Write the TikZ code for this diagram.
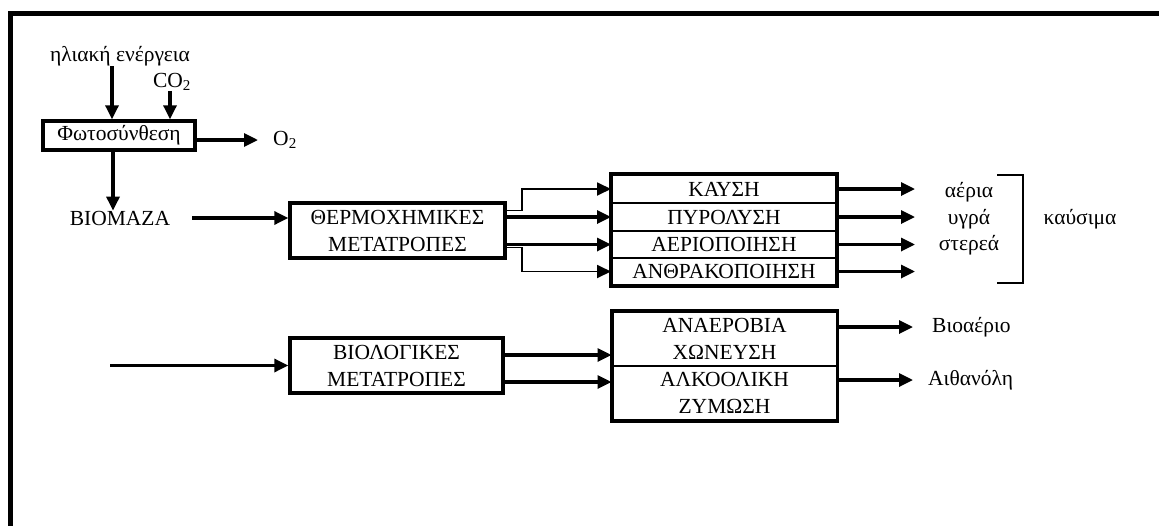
\documentclass[tikz,border=0pt]{standalone}
\usepackage{fontspec}
\setmainfont{Liberation Serif}
\usetikzlibrary{arrows.meta,calc}
\begin{document}
\begin{tikzpicture}[x=1pt,y=-1pt,
  txt/.style={inner sep=0pt, font=\fontsize{21.5}{27}\selectfont},
  box/.style={draw, line width=3.4pt, inner sep=0pt, align=center, font=\fontsize{21.5}{27}\selectfont},
  cell/.style={draw, line width=2pt, inner sep=0pt, align=center, font=\fontsize{21.5}{27}\selectfont, minimum width=224pt},
  arr/.style={line width=3.2pt, -{Triangle[length=14pt,width=13pt]}},
  tarr/.style={line width=1.8pt, -{Triangle[length=14pt,width=13pt]}}
]
\useasboundingbox (0,0) rectangle (1159,525);
% frame
\draw[line width=5pt] (10.5,527) -- (10.5,13) -- (1162,13);

% photosynthesis part
\node[txt] (sun) at (120,56) {ηλιακή ενέργεια};
\node[txt] (co2) at (172,82) {CO\textsubscript{2}};
\node[box, minimum width=152pt, minimum height=29pt] (photo) at (119,135.5) {Φωτοσύνθεση};
\node[txt] (o2) at (285,140) {O\textsubscript{2}};
\node[txt] (bio) at (120,218) {BIOMAZA};

\draw[arr] (sun.south -| 112,0) -- (photo.north -| 112,0);
\draw[arr] (co2.south -| 170,0) -- (photo.north -| 170,0);
\coordinate (o2end) at (258,140);
\draw[arr] (photo.east |- o2end) -- (o2end);
\draw[arr] (photo.south -| 113,0) -- (bio.north -| 113,0);

% thermochemical
\node[box, minimum width=215pt, minimum height=55pt] (thermo) at (397.5,230.5) {ΘΕΡΜΟΧΗΜΙΚΕΣ\\ΜΕΤΑΤΡΟΠΕΣ};
\coordinate (bioout) at (192,218);
\draw[arr] (bioout) -- (bioout -| thermo.west);

\node[cell, minimum height=28pt] (kausi) at (724,189) {ΚΑΥΣΗ};
\node[cell, minimum height=28pt] (pyro) at (724,217) {ΠΥΡΟΛΥΣΗ};
\node[cell, minimum height=27pt] (aerio) at (724,244.5) {ΑΕΡΙΟΠΟΙΗΣΗ};
\node[cell, minimum height=27pt] (anthr) at (724,271.5) {ΑΝΘΡΑΚΟΠΟΙΗΣΗ};
\draw[line width=3.4pt] (kausi.north west) rectangle (anthr.south east);

\draw[tarr] ([yshift=20pt]thermo.east) -- ++(15,0) |- (kausi.west);
\draw[arr] (thermo.east |- pyro.west) -- (pyro.west);
\draw[arr] (thermo.east |- aerio.west) -- (aerio.west);
\draw[tarr] ([yshift=-17pt]thermo.east) -- ++(15,0) |- (anthr.west);

\coordinate (outx) at (915,0);
\draw[arr] (kausi.east) -- (kausi.east -| outx);
\draw[arr] (pyro.east) -- (pyro.east -| outx);
\draw[arr] (aerio.east) -- (aerio.east -| outx);
\draw[arr] (anthr.east) -- (anthr.east -| outx);

\node[txt] (gas) at (969,192) {αέρια};
\node[txt] (liq) at (969,219) {υγρά};
\node[txt] (sol) at (969,245) {στερεά};
\draw[line width=1.8pt] (997,175) -- (1023,175) -- (1023,283) -- (997,283);
\node[txt] (fuel) at (1080,219) {καύσιμα};

% biological
\node[box, minimum width=213pt, minimum height=55pt] (biol) at (396.5,365.5) {ΒΙΟΛΟΓΙΚΕΣ\\ΜΕΤΑΤΡΟΠΕΣ};
\coordinate (bioin) at (110,365.5);
\draw[arr] (bioin) -- (biol.west);

\node[cell, minimum height=54pt] (anaer) at (724.5,339) {ΑΝΑΕΡΟΒΙΑ\\ΧΩΝΕΥΣΗ};
\node[cell, minimum height=54pt] (alko) at (724.5,393) {ΑΛΚΟΟΛΙΚΗ\\ΖΥΜΩΣΗ};
\draw[line width=3.4pt] (anaer.north west) rectangle (alko.south east);

\coordinate (bl1) at ([yshift=10.5pt]biol.east);
\coordinate (bl2) at ([yshift=-16.5pt]biol.east);
\draw[arr] (bl1) -- (bl1 -| anaer.west);
\draw[arr] (bl2) -- (bl2 -| alko.west);

\node[txt, anchor=west] (biogas) at (932,327) {Βιοαέριο};
\node[txt, anchor=west] (ethanol) at (928,380) {Αιθανόλη};
\draw[arr] ([yshift=12pt]anaer.east) -- ([yshift=12pt]anaer.east -| 913,0);
\draw[arr] ([yshift=13pt]alko.east) -- ([yshift=13pt]alko.east -| 913,0);
\end{tikzpicture}
\end{document}
